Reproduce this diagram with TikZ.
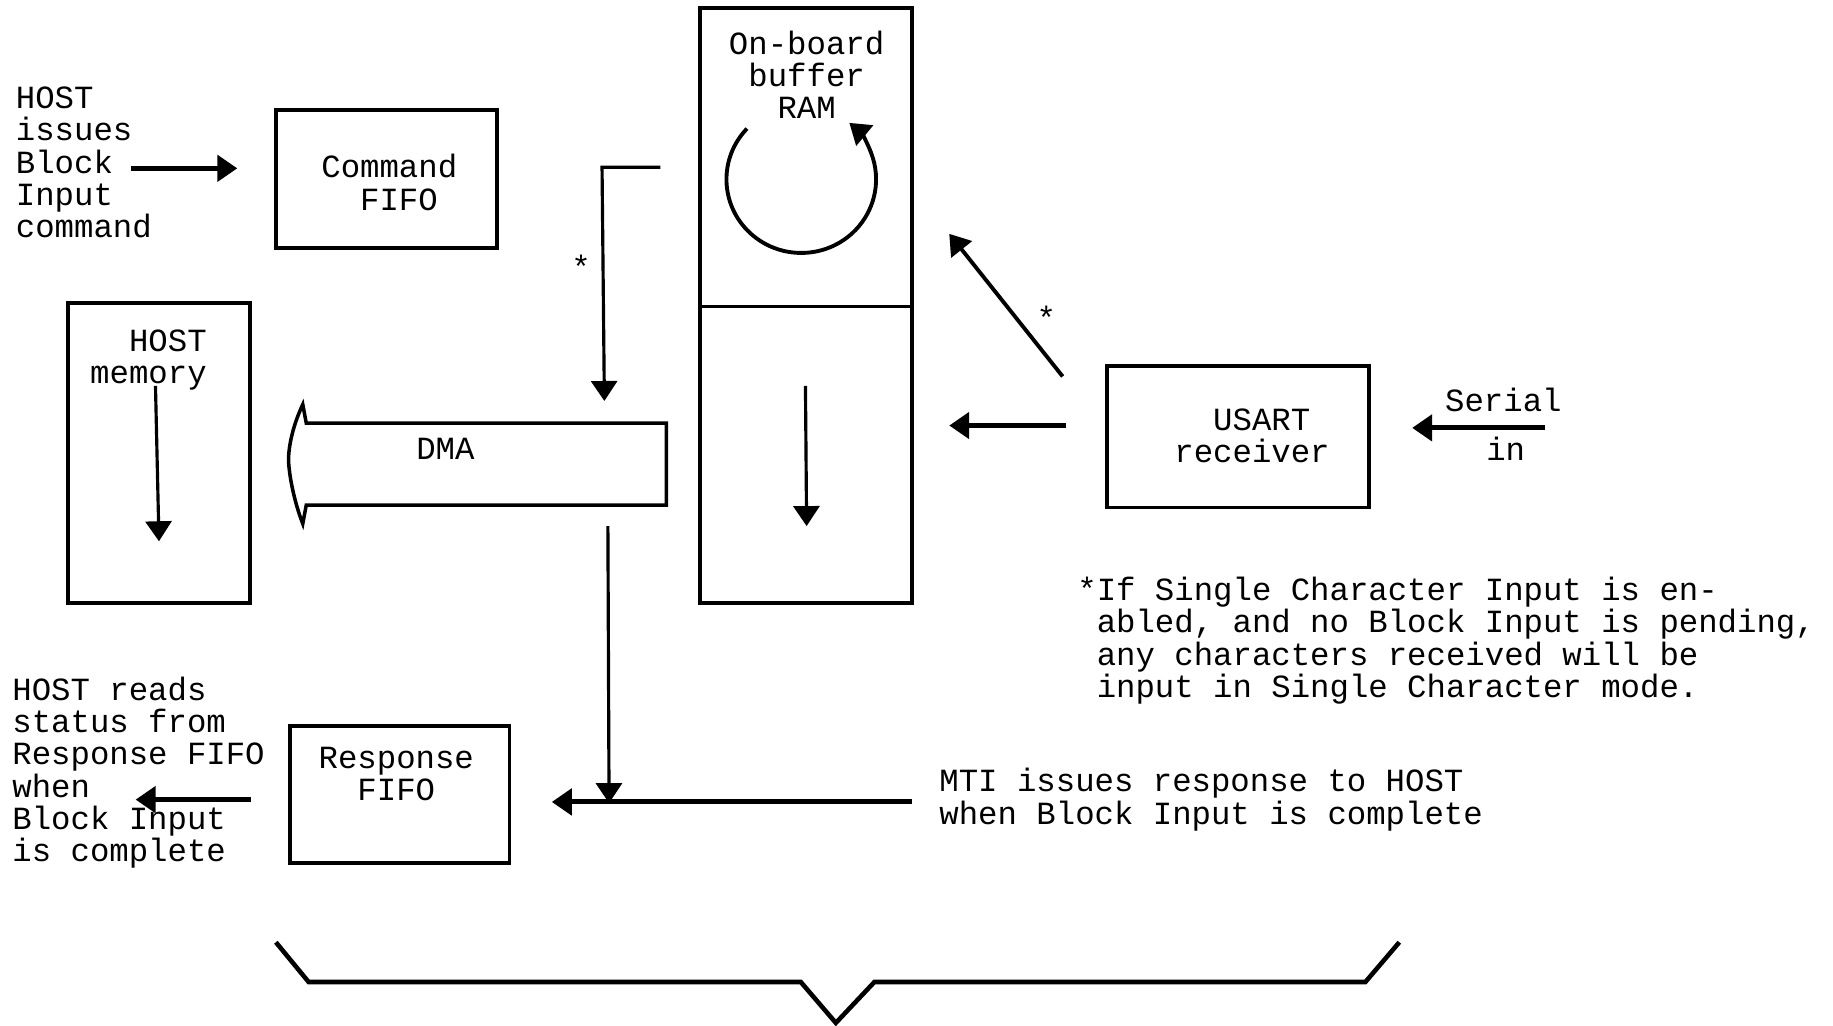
\documentclass[tikz,border=0pt]{standalone}
\usepackage{fontspec}
\setmonofont{Liberation Mono}
\usetikzlibrary{arrows.meta,fit}

\begin{document}
\begin{tikzpicture}[x=0.011692cm, y=-0.011692cm,
    >={Triangle[length=2mm,width=2.6mm]},
    caixa/.style={draw, line width=1pt, inner sep=0pt},
    texto/.style={font=\ttfamily\fontsize{9.2}{9.2}\selectfont, inner sep=0pt},
    seta/.style={->, line width=1.4pt},
    fina/.style={->, line width=0.9pt}]
    \useasboundingbox (0,0) rectangle (1568,877);

    % caixas
    \node[caixa, fit={(236,94) (425,212)}] (cmd) {};
    \node[caixa, fit={(58,259) (214,516)}] (mem) {};
    \node[caixa, fit={(599,7) (780,262)}] (ramtop) {};
    \node[caixa, fit={(599,262) (780,516)}] (rambot) {};
    \node[caixa, fit={(947,313) (1171,434)}] (usart) {};
    \node[caixa, fit={(248,621) (436,738)}] (resp) {};

    % textos
    \node[texto, align=left] (cmdtxt) at (333,156) {Command\\\phantom{xx}FIFO};
    \node[texto, align=left, anchor=west] (hostcmd) at (13,139) {HOST\\issues\\Block\\Input\\command};
    \node[texto, align=left] (memtxt) at (127,308) {\phantom{xx}HOST\\memory};
    \node[texto, align=center] (ramtxt) at (690,64) {On-board\\buffer\\RAM};
    \node[texto] (dma) at (381,384) {DMA};
    \node[texto, align=left] (usarttxt) at (1071,373) {\phantom{xx}USART\\receiver};
    \node[texto] (serial) at (1286,342) {Serial};
    \node[texto] (serialin) at (1288,384) {in};
    \node[texto, align=center] (resptxt) at (339,662) {Response\\FIFO};
    \node[texto, align=left, anchor=west] (hostread) at (10,661)
        {HOST reads\\status from\\Response FIFO\\when\\Block Input\\is complete};
    \node[texto, align=left, anchor=west] (mti) at (803,684)
        {MTI issues response to HOST\\when Block Input is complete};
    \node[texto, align=left, anchor=west] (nota) at (921,548)
        {*If Single Character Input is en-\\
         \phantom{*}abled, and no Block Input is pending,\\
         \phantom{*}any characters received will be\\
         \phantom{*}input in Single Character mode.};
    \node[texto] (ast1) at (497,228) {*};
    \node[texto] (ast2) at (895,272) {*};

    % pontos das setas
    \coordinate (hc1) at (112,144);  \coordinate (hc2) at (203,144);
    \coordinate (st1) at (565,143);  \coordinate (st2) at (515,143);
    \coordinate (st3) at (517,343);
    \coordinate (dm1) at (520,450);  \coordinate (dm2) at (521,687);
    \coordinate (mt1) at (780,686);  \coordinate (mt2) at (472,686);
    \coordinate (hr1) at (215,684);  \coordinate (hr2) at (116,684);
    \coordinate (me1) at (133,330);  \coordinate (me2) at (136,463);
    \coordinate (rb1) at (689,330);  \coordinate (rb2) at (690,450);
    \coordinate (us1) at (912,364);  \coordinate (us2) at (812,364);
    \coordinate (dg1) at (909,322);  \coordinate (dg2) at (812,200);
    \coordinate (sr1) at (1322,366); \coordinate (sr2) at (1208,366);
    \coordinate (arc0) at (639,110);

    % setas
    \foreach \a/\b in {hc1/hc2, mt1/mt2, hr1/hr2, us1/us2, sr1/sr2}
        \draw[seta] (\a) -- (\b);
    \foreach \a/\b in {dm1/dm2, me1/me2, rb1/rb2}
        \draw[fina] (\a) -- (\b);
    \draw[fina] (st1) -- (st2) -- (st3);
    \draw[->, line width=1.1pt] (dg1) -- (dg2);
    \draw[->, line width=1.1pt] (arc0) arc[start angle=223.5, end angle=-50, x radius=64, y radius=63];

    % seta larga do DMA
    \draw[line width=1pt] (570,362) -- (262,362) -- (259,346)
        .. controls (250,365) and (246,385) .. (247,397)
        .. controls (248,410) and (252,430) .. (259,448)
        -- (262,432) -- (570,432) -- cycle;

    % chave
    \draw[line width=1.3pt] (236,806) -- (264,840) -- (685,840) -- (715,875)
        -- (748,840) -- (1168,840) -- (1197,806);
\end{tikzpicture}
\end{document}
